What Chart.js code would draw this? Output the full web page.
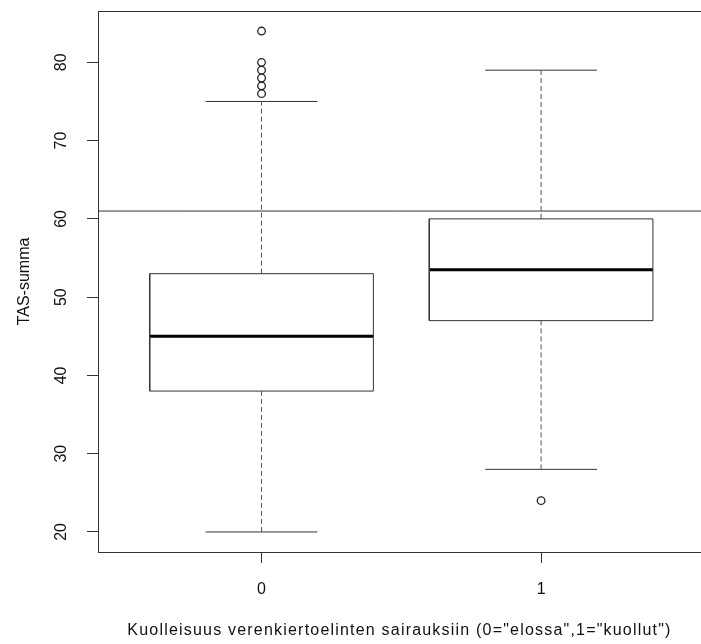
<!DOCTYPE html>
<html>
<head>
<meta charset="utf-8">
<script src="https://cdn.jsdelivr.net/npm/chart.js@4/dist/chart.umd.min.js"></script>
<style>
  html, body { margin: 0; padding: 0; background: #fff; }
  #c { display: block; }
</style>
</head>
<body>
<canvas id="c" width="701" height="644"></canvas>
<script>
// Groups: 0 = alive, 1 = died of cardiovascular disease
const groups = ['0', '1'];
// Five-number summaries of TAS-summa per group
const whiskerLow = [20, 28];
const lowerQuartile = [38, 47];
const medians = [45, 53.5];
const upperQuartile = [53, 60];
const whiskerHigh = [75, 79];
// Points beyond the whiskers
const outliers = [[76, 77, 78, 79, 80, 84], [24]];
// Horizontal reference line
const referenceLine = [61];
// Axis ticks
const yTicks = [20, 30, 40, 50, 60, 70, 80];

const X_MIN = 0.415, X_MAX = 2.572;
const Y_MIN = 17.44, Y_MAX = 86.56;
const BOX_HALF = 0.4, STAPLE_HALF = 0.2;

const gap = (x) => ({ x: x, y: null });

const boxPts = [], medianPts = [], whiskerPts = [], staplePts = [], outlierPts = [];
groups.forEach((g, i) => {
  const x = i + 1;
  boxPts.push(
    { x: x - BOX_HALF, y: lowerQuartile[i] }, { x: x + BOX_HALF, y: lowerQuartile[i] },
    { x: x + BOX_HALF, y: upperQuartile[i] }, { x: x - BOX_HALF, y: upperQuartile[i] },
    { x: x - BOX_HALF, y: lowerQuartile[i] }, gap(x));
  medianPts.push({ x: x - BOX_HALF, y: medians[i] }, { x: x + BOX_HALF, y: medians[i] }, gap(x));
  whiskerPts.push({ x: x, y: whiskerLow[i] }, { x: x, y: lowerQuartile[i] }, gap(x),
                  { x: x, y: upperQuartile[i] }, { x: x, y: whiskerHigh[i] }, gap(x));
  staplePts.push({ x: x - STAPLE_HALF, y: whiskerLow[i] }, { x: x + STAPLE_HALF, y: whiskerLow[i] }, gap(x),
                 { x: x - STAPLE_HALF, y: whiskerHigh[i] }, { x: x + STAPLE_HALF, y: whiskerHigh[i] }, gap(x));
  outliers[i].forEach(v => outlierPts.push({ x: x, y: v }));
});
const refPts = [{ x: X_MIN, y: referenceLine[0] }, { x: X_MAX, y: referenceLine[0] }];

const INK = '#333';
const lineSet = (data, extra) => Object.assign({
  data: data, showLine: true, pointRadius: 0, borderColor: INK, borderWidth: 1,
  spanGaps: false, tension: 0, fill: false, borderJoinStyle: 'miter', borderCapStyle: 'butt'
}, extra || {});

// Plot frame around the chart area
const frame = {
  id: 'frame',
  afterDatasetsDraw(chart) {
    const a = chart.chartArea, ctx = chart.ctx;
    ctx.save();
    ctx.strokeStyle = INK;
    ctx.lineWidth = 1;
    ctx.strokeRect(Math.round(a.left) + 0.5, Math.round(a.top) + 0.5,
                   Math.round(a.right - a.left), Math.round(a.bottom - a.top));
    ctx.restore();
  }
};

Chart.defaults.font.family = '"Liberation Sans", Arial, sans-serif';
Chart.defaults.font.size = 16;
Chart.defaults.color = '#111';

new Chart(document.getElementById('c'), {
  type: 'scatter',
  data: {
    datasets: [
      lineSet(refPts),
      lineSet(whiskerPts, { borderDash: [5, 3], borderColor: '#555' }),
      lineSet(staplePts),
      lineSet(boxPts),
      lineSet(medianPts, { borderWidth: 3, borderColor: '#000' }),
      {
        data: outlierPts, showLine: false, pointRadius: 3.8, pointStyle: 'circle',
        pointBackgroundColor: 'rgba(0,0,0,0)', pointBorderColor: '#222', pointBorderWidth: 1.3
      }
    ]
  },
  options: {
    responsive: false,
    animation: false,
    events: [],
    layout: { autoPadding: false, padding: { top: 11, right: 0, left: 0, bottom: 0 } },
    plugins: { legend: { display: false }, tooltip: { enabled: false } },
    scales: {
      x: {
        type: 'linear', min: X_MIN, max: X_MAX,
        afterBuildTicks: (s) => { s.ticks = groups.map((g, i) => ({ value: i + 1 })); },
        afterFit: (s) => {
          s.height = 92;
          s.paddingLeft = 0; s.paddingRight = 0;
          if (!s._spacedTitle) {
            // slightly wider character advances for the axis title
            const drawTitle = s.drawTitle.bind(s);
            s.drawTitle = function () {
              const ctx = s.ctx;
              ctx.save();
              ctx.letterSpacing = '1.2px';
              drawTitle();
              ctx.restore();
            };
            s._spacedTitle = true;
          }
        },
        ticks: { padding: 17, callback: (v) => groups[Math.round(v) - 1] },
        grid: { display: true, drawOnChartArea: false, drawTicks: true, tickLength: 11, color: INK },
        border: { display: false },
        title: {
          display: true,
          text: 'Kuolleisuus verenkiertoelinten sairauksiin (0="elossa",1="kuollut")',
          padding: { top: 0, bottom: 4 }
        }
      },
      y: {
        type: 'linear', min: Y_MIN, max: Y_MAX,
        afterBuildTicks: (s) => { s.ticks = yTicks.map(v => ({ value: v })); },
        afterFit: (s) => { s.width = 98; s.paddingTop = 0; s.paddingBottom = 0; },
        ticks: { padding: 17, minRotation: 90, maxRotation: 90, crossAlign: 'center' },
        grid: { display: true, drawOnChartArea: false, drawTicks: true, tickLength: 11, color: INK },
        border: { display: false },
        title: { display: true, text: 'TAS-summa', padding: { top: 15, bottom: 0 } }
      }
    }
  },
  plugins: [frame]
});
</script>
</body>
</html>
